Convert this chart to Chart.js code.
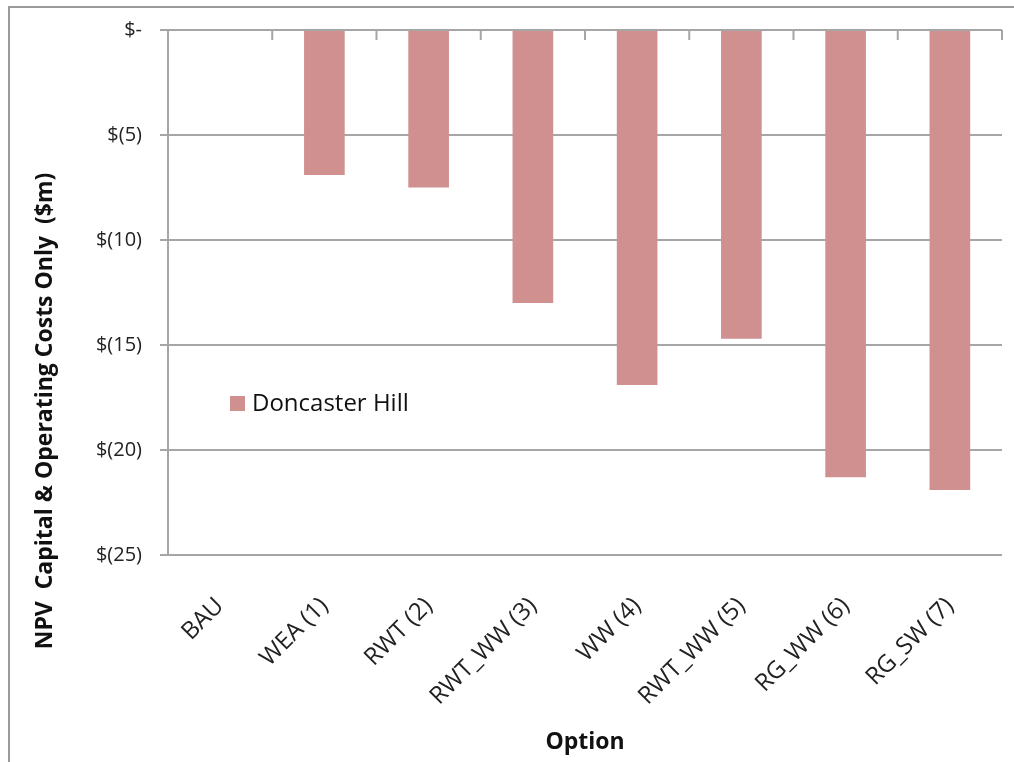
<!DOCTYPE html>
<html>
<head>
<meta charset="utf-8">
<title>NPV Capital & Operating Costs</title>
<script src="https://cdn.jsdelivr.net/npm/chart.js@4/dist/chart.umd.min.js"></script>
<style>
  html, body { margin: 0; padding: 0; background: #fff; }
  canvas { display: block; }
</style>
</head>
<body>
<canvas id="npvChart" width="1014" height="762"></canvas>
<script>
// Options compared, and NPV (in $m, negative = cost) for Doncaster Hill
const options = ['BAU', 'WEA (1)', 'RWT (2)', 'RWT_WW (3)', 'WW (4)', 'RWT_WW (5)', 'RG_WW (6)', 'RG_SW (7)'];
const doncasterHill = [0, -6.9, -7.5, -13.0, -16.9, -14.7, -21.3, -21.9];
const yTicks = [0, -5, -10, -15, -20, -25];

const seriesName = 'Doncaster Hill';
const barColor = '#d19090';
const lineColor = '#a6a6a6';
const fontFamily = '"Open Sans", "Liberation Sans", sans-serif';

// Excel-style currency: 0 -> "$-", -5 -> "$(5)"
function money(v) {
    if (v === 0) return '$-';
    return v < 0 ? '$(' + Math.abs(v) + ')' : '$' + v;
}

// Outer frame (top and left edges only)
const framePlugin = {
    id: 'frame',
    beforeDraw(chart) {
        const ctx = chart.ctx;
        ctx.save();
        ctx.strokeStyle = '#9a9a9a';
        ctx.lineWidth = 2;
        ctx.beginPath();
        ctx.moveTo(9, chart.height);
        ctx.lineTo(9, 7);
        ctx.lineTo(chart.width, 7);
        ctx.stroke();
        ctx.restore();
    }
};

// Category axis sits at zero (the top), with short tick marks between categories
const topAxisPlugin = {
    id: 'topAxis',
    afterDatasetsDraw(chart) {
        const x = chart.scales.x;
        const top = chart.chartArea.top;
        const n = options.length;
        const ctx = chart.ctx;
        ctx.save();
        ctx.strokeStyle = lineColor;
        ctx.lineWidth = 2;
        ctx.beginPath();
        for (let i = 1; i <= n; i++) {
            const px = x.left + i * (x.width / n);
            ctx.moveTo(px, top);
            ctx.lineTo(px, top + 10);
        }
        ctx.stroke();
        ctx.restore();
    }
};

// Axis titles and the legend drawn inside the plot
const labelsPlugin = {
    id: 'labels',
    afterDraw(chart) {
        const ctx = chart.ctx;
        const area = chart.chartArea;
        ctx.save();
        ctx.fillStyle = '#111';
        ctx.font = 'bold 23px ' + fontFamily;
        ctx.textAlign = 'center';
        ctx.textBaseline = 'middle';
        ctx.fillText('Option', 585, 742);

        ctx.translate(45, 411);
        ctx.rotate(-Math.PI / 2);
        ctx.fillText('NPV  Capital & Operating Costs Only  ($m)', 0, 0);
        ctx.restore();

        // legend entry
        const lx = area.left + 62;
        const ly = 403;
        ctx.save();
        ctx.fillStyle = chart.data.datasets[0].backgroundColor;
        ctx.fillRect(lx, ly - 7, 15, 15);
        ctx.fillStyle = '#111';
        ctx.font = '24px ' + fontFamily;
        ctx.textAlign = 'left';
        ctx.textBaseline = 'middle';
        ctx.fillText(chart.data.datasets[0].label, lx + 22, ly + 1);
        ctx.restore();
    }
};

new Chart('npvChart', {
    type: 'bar',
    data: {
        labels: options,
        datasets: [{
            label: seriesName,
            data: doncasterHill,
            backgroundColor: barColor,
            borderWidth: 0,
            categoryPercentage: 1.0,
            barPercentage: 0.39
        }]
    },
    options: {
        responsive: false,
        animation: false,
        devicePixelRatio: 1,
        layout: { padding: { top: 30, right: 12, left: 0, bottom: 0 } },
        plugins: {
            legend: { display: false },
            tooltip: { enabled: false }
        },
        scales: {
            x: {
                grid: { display: false },
                border: { display: false },
                ticks: {
                    autoSkip: false,
                    minRotation: 45,
                    maxRotation: 45,
                    padding: 29,
                    color: '#222',
                    font: { family: fontFamily, size: 24 }
                },
                afterFit(scale) { scale.height = 207; }
            },
            y: {
                min: -25,
                max: 0,
                afterBuildTicks(scale) {
                    scale.ticks = yTicks.map(v => ({ value: v }));
                },
                grid: {
                    color: lineColor,
                    lineWidth: 2,
                    tickLength: 8
                },
                border: { color: lineColor, width: 2 },
                ticks: {
                    padding: 18,
                    color: '#222',
                    font: { family: fontFamily, size: 20 },
                    callback: v => money(v)
                },
                afterFit(scale) { scale.width = 168; }
            }
        }
    },
    plugins: [framePlugin, topAxisPlugin, labelsPlugin]
});
</script>
</body>
</html>
